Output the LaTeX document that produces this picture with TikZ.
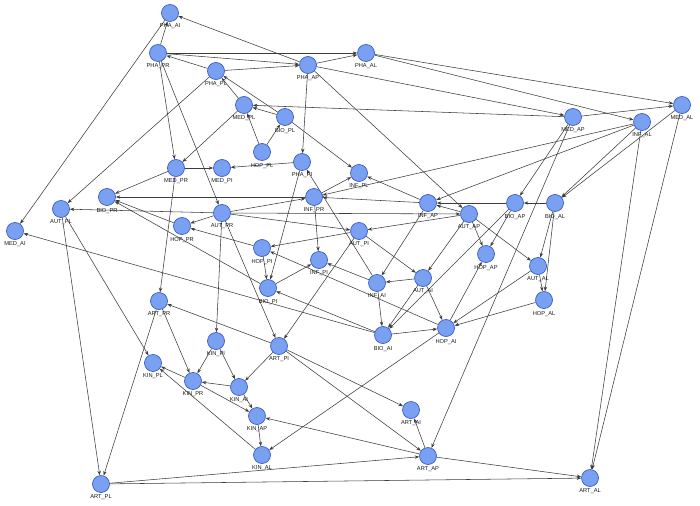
\documentclass[tikz,border=0pt]{standalone}
\usepackage{fontspec}
\setmainfont{Liberation Sans}
\usetikzlibrary{arrows.meta}
\definecolor{nodefill}{RGB}{122,160,242}
\definecolor{nodeborder}{RGB}{58,92,200}
\definecolor{edgecol}{RGB}{60,60,60}
\pgfdeclarelayer{background}
\pgfsetlayers{background,main}
\tikzset{
  vtx/.style={circle,fill=nodefill,draw=nodeborder,line width=0.7pt,minimum size=17pt,inner sep=0pt},
  lbl/.style={font=\fontsize{5.7}{6.5}\selectfont,text=black!90,inner sep=0pt,label distance=2pt},
  edge/.style={draw=edgecol,line width=0.55pt,-{Stealth[length=4.5pt,width=3.4pt]}}
}
\newcommand\vnode[3]{\node[vtx,label={[lbl]below:#3}] (#1) at (#2) {};}
\begin{document}
\begin{tikzpicture}[x=1pt,y=-1pt]
\useasboundingbox (0,0) rectangle (700,505);
\vnode{phaai}{170,13}{PHA\_AI}
\vnode{phapr}{158,53}{PHA\_PR}
\vnode{phapl}{216,71}{PHA\_PL}
\vnode{phaap}{308,65}{PHA\_AP}
\vnode{phaal}{366,53}{PHA\_AL}
\vnode{medpl}{244,105}{MED\_PL}
\vnode{biopl}{285,117}{BIO\_PL}
\vnode{hoppl}{262,152}{HOP\_PL}
\vnode{medap}{573,117}{MED\_AP}
\vnode{infal}{642,122}{INF\_AL}
\vnode{medal}{682,105}{MED\_AL}
\vnode{medpr}{176,168}{MED\_PR}
\vnode{medpi}{222,168}{MED\_PI}
\vnode{phapi}{302,162}{PHA\_PI}
\vnode{infpl}{359,173}{INF\_PL}
\vnode{infpr}{314,197}{INF\_PR}
\vnode{biopr}{107,197}{BIO\_PR}
\vnode{autpl}{61,209}{AUT\_PL}
\vnode{medai}{15,231}{MED\_AI}
\vnode{autpr}{222,213}{AUT\_PR}
\vnode{hoppr}{182,226}{HOP\_PR}
\vnode{infap}{428,203}{INF\_AP}
\vnode{autap}{469,214}{AUT\_AP}
\vnode{bioap}{515,203}{BIO\_AP}
\vnode{bioal}{555,203}{BIO\_AL}
\vnode{autpi}{359,231}{AUT\_PI}
\vnode{hoppi}{262,248}{HOP\_PI}
\vnode{infpi}{319,260}{INF\_PI}
\vnode{biopi}{268,288}{BIO\_PI}
\vnode{hopap}{486,254}{HOP\_AP}
\vnode{autal}{538,266}{AUT\_AL}
\vnode{hopal}{544,300}{HOP\_AL}
\vnode{infai}{377,283}{INF\_AI}
\vnode{autai}{423,278}{AUT\_AI}
\vnode{bioai}{383,335}{BIO\_AI}
\vnode{hopai}{446,328}{HOP\_AI}
\vnode{artpr}{159,301}{ART\_PR}
\vnode{artpi}{279,346}{ART\_PI}
\vnode{kinpi}{216,341}{KIN\_PI}
\vnode{kinpl}{153,363}{KIN\_PL}
\vnode{kinpr}{193,381}{KIN\_PR}
\vnode{kinai}{239,387}{KIN\_AI}
\vnode{kinap}{257,416}{KIN\_AP}
\vnode{kinal}{262,455}{KIN\_AL}
\vnode{artai}{411,410}{ART\_AI}
\vnode{artap}{428,456}{ART\_AP}
\vnode{artpl}{101,484}{ART\_PL}
\vnode{artal}{590,478}{ART\_AL}
\begin{pgfonlayer}{background}
\foreach \a/\b in {
 phapr/phaai, phaap/phaai, phaai/medai, phapr/phaal, phapr/phaap,
 phapl/phapr, phapl/phaap, phapl/autpl, phapr/medpr, phapr/autpr,
 medpl/phapl, biopl/phapl, phaap/phaal, phaap/phapi, phaap/autap,
 phaap/medap, phaal/medal, phaal/infal, medap/medpl, biopl/medpl,
 hoppl/medpl, hoppl/biopl, biopl/infpl, medpl/medpr, medpr/medpi,
 phapi/medpi, medpr/biopr, medpr/artpr, medap/medal, medap/bioap,
 medap/artap, infal/infpr, infal/infap, infal/bioal, medal/bioal,
 infal/artal, medal/artal, infpr/infpl, infap/infpl, infap/infpr,
 autpr/infpr, infpr/biopr, infai/phapi, infpr/infpi, autpr/autpl,
 autpr/hoppr, autpr/autap, autpr/autpi, autpr/kinpi, autpr/artpi,
 hoppr/biopr, biopi/biopr, hoppi/hoppr, bioap/infap, autap/infap,
 bioal/bioap, autap/autpi, autap/autai, autap/hopap, autap/autal,
 bioap/hopap, bioap/bioai, bioal/autal, bioal/hopal, autal/hopal,
 autal/hopai, hopal/hopai, hopai/hopap, autpi/hoppi, autpi/autai,
 autpi/artpi, hoppi/biopi, phapi/biopi, biopi/infpi, infai/infpi,
 hopai/hoppi, infap/infai, autai/infai, infai/bioai, autai/bioai,
 autai/hopai, bioai/hopai, bioai/biopi, bioai/medai, hopai/kinal,
 autpl/artpl, autpl/kinpl, artpr/artpl, artpr/kinpr, artpi/artpr,
 kinpi/kinpr, kinpi/kinai, kinai/kinpr, kinpr/kinpl, kinal/kinpl,
 kinpr/kinap, kinai/kinap, artpi/kinai, artpi/artai, artpi/artap,
 artap/artai, artap/kinap, kinap/kinal, artpl/artap, artpl/artal,
 artap/artal}
 {\draw[edge] (\a) -- (\b);}
\end{pgfonlayer}
\end{tikzpicture}
\end{document}
